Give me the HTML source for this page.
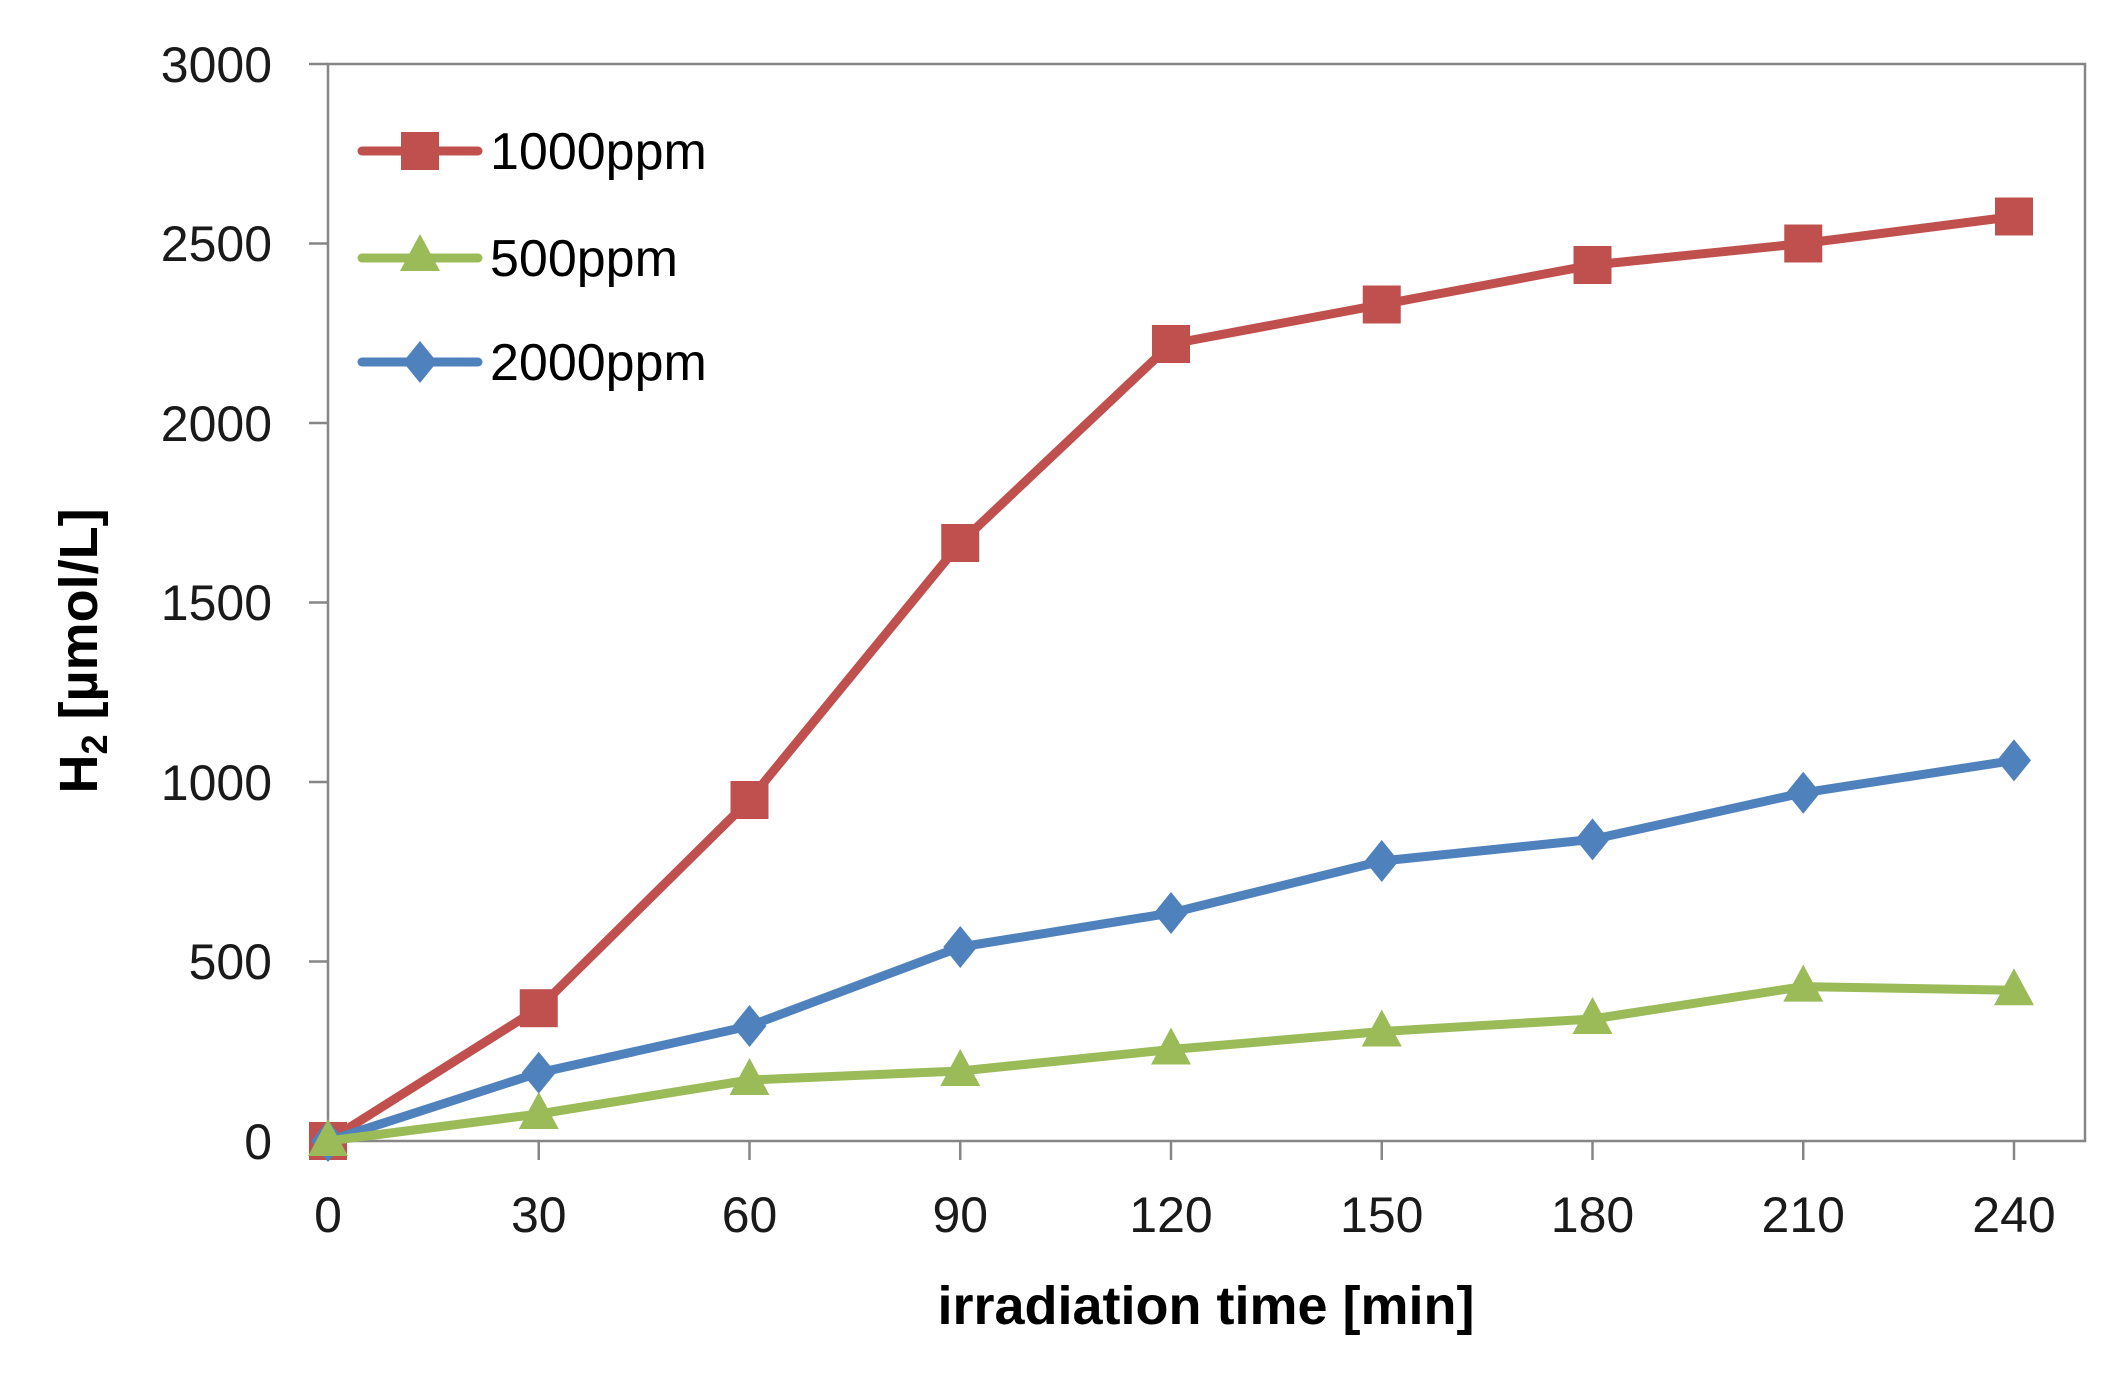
<!DOCTYPE html>
<html><head><meta charset="utf-8"><style>body{margin:0;background:#fff}</style></head><body>
<svg width="2128" height="1376" xmlns="http://www.w3.org/2000/svg" font-family="Liberation Sans, sans-serif">
<rect width="2128" height="1376" fill="#fff"/>
<rect x="328" y="64" width="1757" height="1077" fill="none" stroke="#868686" stroke-width="2.5"/>
<g stroke="#868686" stroke-width="2.5">
<line x1="309" y1="64" x2="328" y2="64"/><line x1="309" y1="243.5" x2="328" y2="243.5"/><line x1="309" y1="423" x2="328" y2="423"/><line x1="309" y1="602.5" x2="328" y2="602.5"/><line x1="309" y1="782" x2="328" y2="782"/><line x1="309" y1="961.5" x2="328" y2="961.5"/><line x1="309" y1="1141" x2="328" y2="1141"/>
<line x1="328" y1="1141" x2="328" y2="1160"/><line x1="538.75" y1="1141" x2="538.75" y2="1160"/><line x1="749.5" y1="1141" x2="749.5" y2="1160"/><line x1="960.25" y1="1141" x2="960.25" y2="1160"/><line x1="1171" y1="1141" x2="1171" y2="1160"/><line x1="1381.75" y1="1141" x2="1381.75" y2="1160"/><line x1="1592.5" y1="1141" x2="1592.5" y2="1160"/><line x1="1803.25" y1="1141" x2="1803.25" y2="1160"/><line x1="2014" y1="1141" x2="2014" y2="1160"/>
</g>
<g font-size="50" fill="#1a1a1a" text-anchor="end">
<text x="272" y="82">3000</text><text x="272" y="261">2500</text><text x="272" y="441">2000</text><text x="272" y="620">1500</text><text x="272" y="800">1000</text><text x="272" y="979">500</text><text x="272" y="1159">0</text>
</g>
<g font-size="50" fill="#1a1a1a" text-anchor="middle">
<text x="328" y="1232">0</text><text x="538.75" y="1232">30</text><text x="749.5" y="1232">60</text><text x="960.25" y="1232">90</text><text x="1171" y="1232">120</text><text x="1381.75" y="1232">150</text><text x="1592.5" y="1232">180</text><text x="1803.25" y="1232">210</text><text x="2014" y="1232">240</text>
</g>
<text x="1206" y="1324" font-size="54" font-weight="bold" text-anchor="middle" fill="#000">irradiation time [min]</text>
<text transform="translate(97,651) rotate(-90)" font-size="54" font-weight="bold" text-anchor="middle" fill="#000">H<tspan font-size="36" dy="10">2</tspan><tspan dy="-10"> [µmol/L]</tspan></text>
<defs>
<rect id="sq" x="-19" y="-19" width="38" height="38" fill="#C0504D"/>
<polygon id="tr" points="0,-22 20,15 -20,15" fill="#9BBB59"/>
<polygon id="di" points="0,-21 17,0 0,21 -17,0" fill="#4F81BD"/>
</defs>
<polyline fill="none" stroke="#C0504D" stroke-width="9" stroke-linejoin="round" points="328,1141 538.75,1008.2 749.5,800 960.25,543 1171,344 1381.75,304.5 1592.5,265 1803.25,243.5 2014,216.5"/>
<g><use href="#sq" x="328" y="1141"/><use href="#sq" x="538.75" y="1008.2"/><use href="#sq" x="749.5" y="800"/><use href="#sq" x="960.25" y="543"/><use href="#sq" x="1171" y="344"/><use href="#sq" x="1381.75" y="304.5"/><use href="#sq" x="1592.5" y="265"/><use href="#sq" x="1803.25" y="243.5"/><use href="#sq" x="2014" y="216.5"/></g>
<polyline fill="none" stroke="#4F81BD" stroke-width="9" stroke-linejoin="round" points="328,1141 538.75,1072.8 749.5,1026 960.25,947 1171,913 1381.75,861 1592.5,839.4 1803.25,792.8 2014,760.4"/>
<g><use href="#di" x="328" y="1141"/><use href="#di" x="538.75" y="1072.8"/><use href="#di" x="749.5" y="1026"/><use href="#di" x="960.25" y="947"/><use href="#di" x="1171" y="913"/><use href="#di" x="1381.75" y="861"/><use href="#di" x="1592.5" y="839.4"/><use href="#di" x="1803.25" y="792.8"/><use href="#di" x="2014" y="760.4"/></g>
<polyline fill="none" stroke="#9BBB59" stroke-width="9" stroke-linejoin="round" points="328,1141 538.75,1114 749.5,1080 960.25,1071 1171,1049.5 1381.75,1031.5 1592.5,1019 1803.25,986.6 2014,990.2"/>
<g><use href="#tr" x="328" y="1141"/><use href="#tr" x="538.75" y="1114"/><use href="#tr" x="749.5" y="1080"/><use href="#tr" x="960.25" y="1071"/><use href="#tr" x="1171" y="1049.5"/><use href="#tr" x="1381.75" y="1031.5"/><use href="#tr" x="1592.5" y="1019"/><use href="#tr" x="1803.25" y="986.6"/><use href="#tr" x="2014" y="990.2"/></g>
<line x1="362" y1="151" x2="478" y2="151" stroke="#C0504D" stroke-width="9" stroke-linecap="round"/><use href="#sq" x="420" y="151"/>
<line x1="362" y1="258" x2="478" y2="258" stroke="#9BBB59" stroke-width="9" stroke-linecap="round"/><use href="#tr" x="420" y="256"/>
<line x1="362" y1="362" x2="478" y2="362" stroke="#4F81BD" stroke-width="9" stroke-linecap="round"/><use href="#di" x="420" y="362"/>
<g font-size="52" fill="#000"><text x="490" y="169">1000ppm</text><text x="490" y="276">500ppm</text><text x="490" y="380">2000ppm</text></g>
</svg>
</body></html>
